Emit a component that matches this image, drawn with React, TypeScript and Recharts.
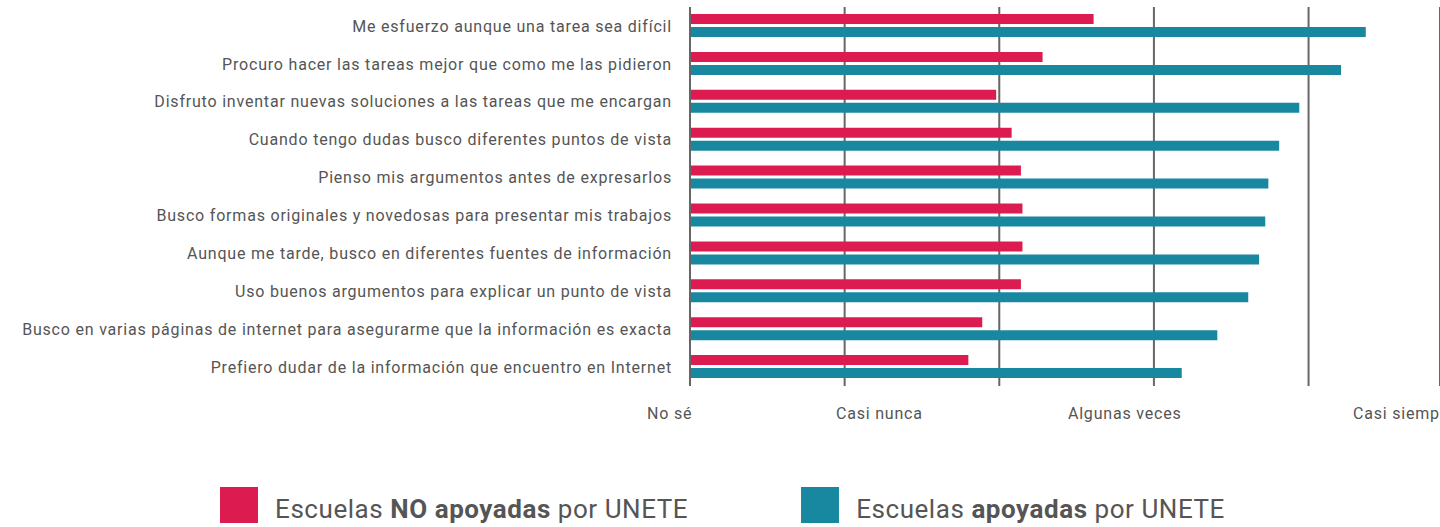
import React from 'react';
import { BarChart, Bar, XAxis, YAxis, CartesianGrid, Legend } from 'recharts';

const categories = [
  'Me esfuerzo aunque una tarea sea difícil',
  'Procuro hacer las tareas mejor que como me las pidieron',
  'Disfruto inventar nuevas soluciones a las tareas que me encargan',
  'Cuando tengo dudas busco diferentes puntos de vista',
  'Pienso mis argumentos antes de expresarlos',
  'Busco formas originales y novedosas para presentar mis trabajos',
  'Aunque me tarde, busco en diferentes fuentes de información',
  'Uso buenos argumentos para explicar un punto de vista',
  'Busco en varias páginas de internet para asegurarme que la información es exacta',
  'Prefiero dudar de la información que encuentro en Internet',
];

const noApoyadas = [2.61, 2.28, 1.98, 2.08, 2.14, 2.15, 2.15, 2.14, 1.89, 1.8];
const apoyadas = [4.37, 4.21, 3.94, 3.81, 3.74, 3.72, 3.68, 3.61, 3.41, 3.18];

const gridTicks = [0, 1, 2, 3, 4];
const scaleLabels = ['No sé', 'Casi nunca', 'Algunas veces', 'Casi siempre'];
const scaleLabelValues = [-0.278, 0.944, 2.444, 4.287];

const seriesNames = ['Escuelas NO apoyadas por UNETE', 'Escuelas apoyadas por UNETE'];
const legendPrefix = 'Escuelas ';
const legendBold = ['NO apoyadas', 'apoyadas'];
const legendSuffix = ' por UNETE';

const RED = '#DC1C50';
const TEAL = '#1888A1';
const GRID = '#666666';
const TEXT = '#555555';
const FONT = "Roboto, 'Noto Sans', sans-serif";

const data = categories.map((label, i) => ({
  label,
  no: noApoyadas[i],
  si: apoyadas[i],
}));

const renderLegend = (props: any) => {
  const payload = props.payload || [];
  return (
    <div style={{ display: 'flex', justifyContent: 'center', gap: 113, paddingLeft: 5, fontFamily: FONT }}>
      {payload.map((e: any) => {
        const idx = seriesNames.indexOf(e.value);
        return (
          <div key={e.value} style={{ display: 'flex', alignItems: 'center' }}>
            <div style={{ width: 38, height: 36, background: e.color, marginRight: 17 }} />
            <span
              style={{
                fontSize: 26,
                color: TEXT,
                whiteSpace: 'nowrap',
                letterSpacing: 0.55,
                position: 'relative',
                top: 4,
              }}
            >
              {legendPrefix}
              <b>{legendBold[idx]}</b>
              {legendSuffix}
            </span>
          </div>
        );
      })}
    </div>
  );
};

export default function App() {
  return (
    <div style={{ position: 'absolute', left: 0, top: 0 }}>
      <BarChart
        width={1440}
        height={527}
        data={data}
        layout="vertical"
        barGap={3}
        margin={{ top: 7, right: 0, bottom: 111, left: 0 }}
      >
        <CartesianGrid xAxisId="grid" horizontal={false} stroke={GRID} strokeWidth={2} />
        <XAxis xAxisId="grid" type="number" domain={[0, 4.85]} ticks={gridTicks} allowDataOverflow hide height={0} />
        <XAxis
          xAxisId="lab"
          type="number"
          domain={[0, 4.85]}
          allowDataOverflow
          ticks={scaleLabelValues}
          interval={0}
          tickFormatter={(v: number, i: number) => scaleLabels[i]}
          axisLine={false}
          tickLine={false}
          tickMargin={16}
          height={30}
          tick={{ fill: TEXT, fontSize: 16, fontFamily: FONT, textAnchor: 'start', letterSpacing: 0.8 }}
        />
        <YAxis
          type="category"
          dataKey="label"
          width={690}
          interval={0}
          axisLine={{ stroke: GRID, strokeWidth: 2 }}
          tickLine={false}
          tickMargin={12}
          tick={{ fill: TEXT, fontSize: 16, fontFamily: FONT, letterSpacing: 0.8 }}
        />
        <Legend
          verticalAlign="middle"
          layout="horizontal"
          wrapperStyle={{ top: 487, left: 0, width: 1440 }}
          content={renderLegend}
        />
        <Bar xAxisId="grid" dataKey="no" name={seriesNames[0]} fill={RED} barSize={10} isAnimationActive={false} />
        <Bar xAxisId="grid" dataKey="si" name={seriesNames[1]} fill={TEAL} barSize={10} isAnimationActive={false} />
      </BarChart>
    </div>
  );
}
